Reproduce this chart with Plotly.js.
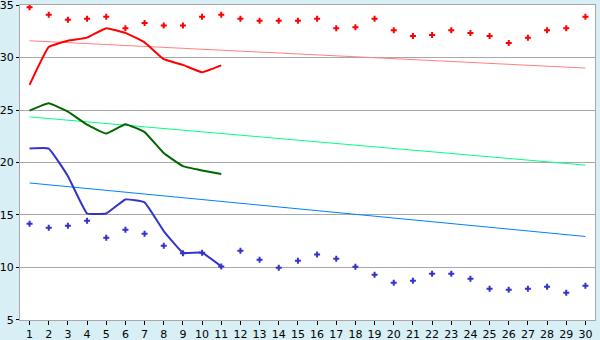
<!DOCTYPE html>
<html><head><meta charset="utf-8">
<script src="https://cdn.plot.ly/plotly-3.0.1.min.js"></script>
<style>html,body{margin:0;padding:0;background:#D9EFF6;}#chart{width:600px;height:340px;}</style>
</head><body><div id="chart"></div>
<script>
const days = Array.from({length:30},(_,i)=>i+1);
const days11 = days.slice(0,11);
const redPoints = [34.8,34.07,33.6,33.7,33.9,32.8,33.3,33.05,33.05,33.9,34.07,33.7,33.5,33.5,33.5,33.7,32.8,32.9,33.7,32.6,32.06,32.16,32.6,32.35,32.06,31.4,31.88,32.6,32.8,33.9];
const bluePoints = [14.16,13.78,13.97,14.44,12.83,13.59,13.21,12.07,11.35,11.4,10.1,11.59,10.73,9.97,10.64,11.24,10.83,10.07,9.3,8.54,8.73,9.4,9.4,8.92,7.97,7.88,7.97,8.16,7.59,8.26];
const redLine = [27.4,31.0,31.6,31.9,32.8,32.35,31.45,29.85,29.3,28.6,29.25];
const greenLine = [24.95,25.65,24.85,23.6,22.76,23.65,22.9,20.9,19.65,19.24,18.9];
const blueLine = [21.33,21.33,18.7,15.14,15.14,16.48,16.2,13.46,11.4,11.4,10.1];
const trendDays = [1,30];
const redTrend = [31.6,29.0];
const greenTrend = [24.35,19.75];
const blueTrend = [18.05,12.95];
const yTicks = [5,10,15,20,25,30,35];

const traces = [
  {x:trendDays,y:redTrend,mode:'lines',line:{color:'#FF8080',width:1}},
  {x:trendDays,y:greenTrend,mode:'lines',line:{color:'#00FF80',width:1}},
  {x:trendDays,y:blueTrend,mode:'lines',line:{color:'#0080FF',width:1}},
  {x:days11,y:redLine,mode:'lines',line:{color:'#FF0000',width:2,shape:'spline',smoothing:0.3}},
  {x:days11,y:greenLine,mode:'lines',line:{color:'#006600',width:2,shape:'spline',smoothing:0.3}},
  {x:days11,y:blueLine,mode:'lines',line:{color:'#3333CC',width:2,shape:'spline',smoothing:0.3}},
  {x:days,y:redPoints,mode:'markers',marker:{color:'#FF0000',symbol:'cross',size:5}},
  {x:days,y:bluePoints,mode:'markers',marker:{color:'#3333CC',symbol:'cross',size:5}}
];
const layout = {
  width:600,height:340,
  margin:{l:20,r:5,t:5,b:20},
  paper_bgcolor:'#D9EFF6',plot_bgcolor:'#FFFFFF',
  showlegend:false,
  font:{family:'DejaVu Sans, Verdana, sans-serif',size:11,color:'#000'},
  xaxis:{range:[0.5,30.5],tickmode:'array',tickvals:days,ticktext:days.map(String),
    ticks:'outside',ticklen:4,tickcolor:'#000',showgrid:false,zeroline:false,
    showline:true,linecolor:'#A8A8A8',linewidth:1,mirror:true,fixedrange:true},
  yaxis:{range:[4.99,35.01],tickmode:'array',tickvals:yTicks,ticktext:yTicks.map(String),
    ticks:'outside',ticklen:3,tickcolor:'#000',ticklabeloverflow:'allow',
    showgrid:true,gridcolor:'#A8A8A8',gridwidth:1,zeroline:false,
    showline:true,linecolor:'#A8A8A8',linewidth:1,mirror:true,fixedrange:true}
};
Plotly.newPlot('chart',traces,layout,{staticPlot:true});
</script></body></html>
